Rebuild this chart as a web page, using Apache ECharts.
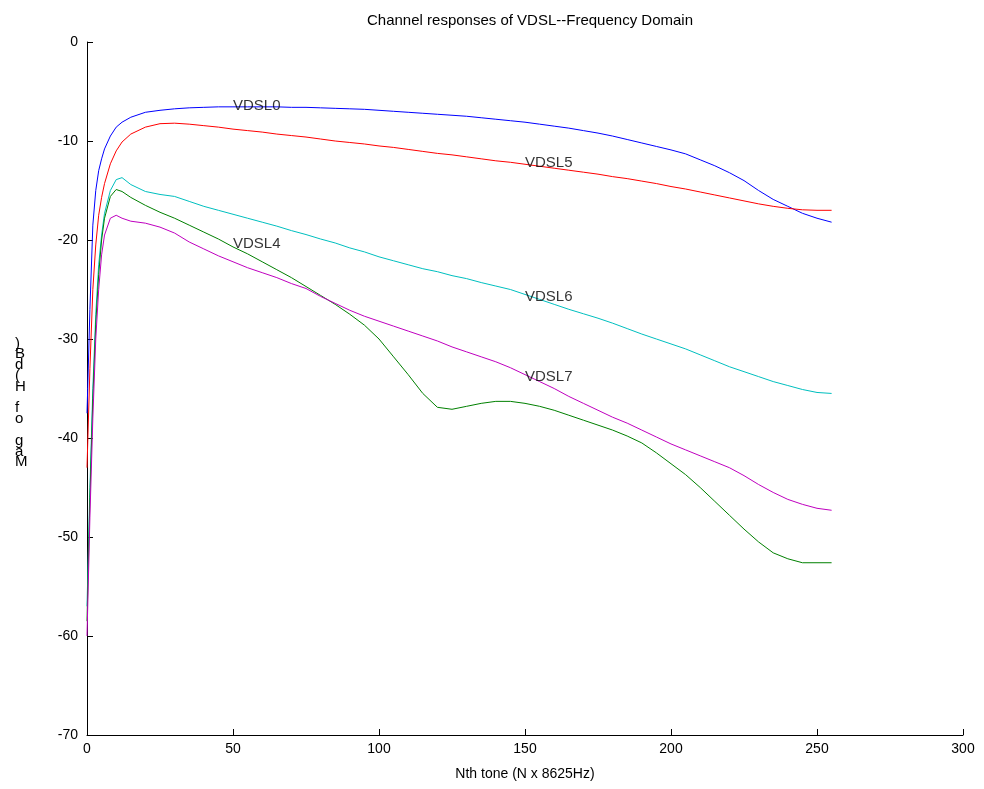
<!DOCTYPE html>
<html>
<head>
<meta charset="utf-8">
<script src="https://cdn.jsdelivr.net/npm/echarts@6/dist/echarts.min.js"></script>
<style>html,body{margin:0;padding:0;background:#fff}#c{width:984px;height:789px}</style>
</head>
<body>
<div id="c"></div>
<script>
const tones = [0,1,2,3,4,5,6,8,10,12,15,20,25,30,35,40,45,50,55,60,65,70,75,80,85,90,95,100,105,110,115,120,125,130,135,140,145,150,155,160,165,170,175,180,185,190,195,200,205,210,215,220,225,230,235,240,245,250,255];
const vdsl0 = [-37.5,-27,-18.5,-15,-13,-11.8,-10.8,-9.5,-8.6,-8.1,-7.6,-7.1,-6.9,-6.75,-6.65,-6.6,-6.55,-6.55,-6.55,-6.55,-6.55,-6.6,-6.6,-6.65,-6.7,-6.75,-6.8,-6.9,-7.0,-7.1,-7.2,-7.3,-7.4,-7.5,-7.65,-7.8,-7.95,-8.1,-8.3,-8.5,-8.7,-8.95,-9.2,-9.5,-9.85,-10.2,-10.55,-10.9,-11.3,-11.9,-12.5,-13.2,-14.0,-15.0,-15.9,-16.6,-17.3,-17.8,-18.2];
const vdsl5 = [-43,-33,-25,-20.5,-17.5,-15.7,-14.3,-12.3,-11,-10.1,-9.3,-8.6,-8.25,-8.2,-8.3,-8.45,-8.6,-8.8,-8.95,-9.1,-9.3,-9.45,-9.6,-9.8,-10.0,-10.15,-10.3,-10.5,-10.65,-10.85,-11.05,-11.25,-11.4,-11.6,-11.8,-12.0,-12.15,-12.35,-12.55,-12.75,-12.95,-13.15,-13.35,-13.6,-13.8,-14.05,-14.3,-14.6,-14.85,-15.15,-15.45,-15.75,-16.05,-16.35,-16.6,-16.8,-16.95,-17.0,-17.0];
const vdsl6 = [-57,-45,-35,-27.5,-22.5,-19.5,-17.3,-15,-13.9,-13.7,-14.4,-15.1,-15.4,-15.6,-16.1,-16.6,-17.0,-17.4,-17.8,-18.2,-18.6,-19.05,-19.45,-19.9,-20.3,-20.8,-21.2,-21.7,-22.1,-22.5,-22.9,-23.2,-23.6,-23.9,-24.3,-24.65,-25.0,-25.5,-26.0,-26.5,-27.0,-27.45,-27.9,-28.4,-28.95,-29.5,-30.0,-30.5,-31.0,-31.6,-32.2,-32.8,-33.3,-33.8,-34.3,-34.7,-35.1,-35.4,-35.5];
const vdsl4 = [-58.5,-46,-36,-28.5,-23.5,-20,-17.8,-15.6,-14.9,-15.1,-15.7,-16.5,-17.2,-17.8,-18.5,-19.2,-19.9,-20.7,-21.4,-22.2,-23.0,-23.8,-24.7,-25.6,-26.5,-27.5,-28.6,-30.0,-31.8,-33.6,-35.5,-36.9,-37.1,-36.8,-36.5,-36.3,-36.3,-36.5,-36.8,-37.2,-37.7,-38.2,-38.7,-39.2,-39.8,-40.5,-41.5,-42.6,-43.7,-45.0,-46.4,-47.8,-49.2,-50.5,-51.6,-52.2,-52.6,-52.6,-52.6];
const vdsl7 = [-60,-48,-38,-30,-25,-21.5,-19.5,-17.8,-17.5,-17.8,-18.1,-18.3,-18.7,-19.3,-20.2,-20.9,-21.6,-22.2,-22.8,-23.3,-23.8,-24.4,-24.9,-25.7,-26.4,-27.1,-27.7,-28.2,-28.7,-29.2,-29.7,-30.2,-30.8,-31.3,-31.8,-32.3,-32.9,-33.6,-34.3,-35.0,-35.8,-36.5,-37.2,-37.9,-38.5,-39.2,-39.9,-40.6,-41.2,-41.8,-42.4,-43.0,-43.8,-44.7,-45.5,-46.2,-46.7,-47.1,-47.3];
const labelNames = ['VDSL0','VDSL5','VDSL4','VDSL6','VDSL7'];
const labelX = [50,150,50,150,150];
const labelY = [-6.46,-12.2,-20.4,-25.7,-33.8];
const xTicks = [0,50,100,150,200,250,300];
const yTicks = [0,-10,-20,-30,-40,-50,-60,-70];
const yName = 'Mag of H(dB)';

const font = '"Liberation Sans", Arial, sans-serif';
function mk(name, vals, color) {
  return {
    name: name, type: 'line', data: tones.map((t, i) => [t, vals[i]]),
    showSymbol: false, symbol: 'none', smooth: false,
    lineStyle: { color: color, width: 1 }, z: 2
  };
}
const chart = echarts.init(document.getElementById('c'), null, { renderer: 'canvas' });
chart.setOption({
  animation: false,
  backgroundColor: '#ffffff',
  title: {
    text: 'Channel responses of VDSL--Frequency Domain',
    left: 525, top: 8, textAlign: 'center',
    textStyle: { fontFamily: font, fontSize: 15, fontWeight: 'normal', color: '#000' }
  },
  graphic: [{
    type: 'text', left: 15, top: 336, z: 10,
    style: {
      text: yName.split('').reverse().join('\n'),
      fontFamily: font, fontSize: 15, fill: '#000', lineHeight: 10.8, align: 'center'
    }
  }],
  grid: { left: 87, right: 21, top: 42, bottom: 54, containLabel: false },
  xAxis: {
    type: 'value', min: 0, max: 300, interval: 50,
    name: 'Nth tone (N x 8625Hz)', nameLocation: 'middle', nameGap: 32,
    nameTextStyle: { fontFamily: font, fontSize: 14, color: '#000' },
    axisLine: { show: true, onZero: false, lineStyle: { color: '#000', width: 1 } },
    axisTick: { show: true, inside: true, length: 6, lineStyle: { color: '#000' } },
    axisLabel: { fontFamily: font, fontSize: 14, color: '#000', margin: 7,
      formatter: v => xTicks.indexOf(v) >= 0 ? String(v) : '' },
    splitLine: { show: false }
  },
  yAxis: {
    type: 'value', min: -70, max: 0, interval: 10,
    axisLine: { show: true, onZero: false, lineStyle: { color: '#000', width: 1 } },
    axisTick: { show: true, inside: true, length: 6, lineStyle: { color: '#000' } },
    axisLabel: { fontFamily: font, fontSize: 14, color: '#000', margin: 9,
      formatter: v => yTicks.indexOf(v) >= 0 ? String(v) : '' },
    splitLine: { show: false }
  },
  series: [
    mk('VDSL0', vdsl0, '#0000ff'),
    mk('VDSL5', vdsl5, '#ff0000'),
    mk('VDSL6', vdsl6, '#00bfbf'),
    mk('VDSL4', vdsl4, '#008000'),
    mk('VDSL7', vdsl7, '#bf00bf'),
    {
      name: 'labels', type: 'scatter', symbolSize: 0, z: 5,
      data: labelNames.map((n, i) => ({ value: [labelX[i], labelY[i]], name: n })),
      label: { show: true, position: 'right', distance: 0, formatter: p => p.name,
        fontFamily: font, fontSize: 15, color: '#000' },
      silent: true
    }
  ]
});
</script>
</body>
</html>
